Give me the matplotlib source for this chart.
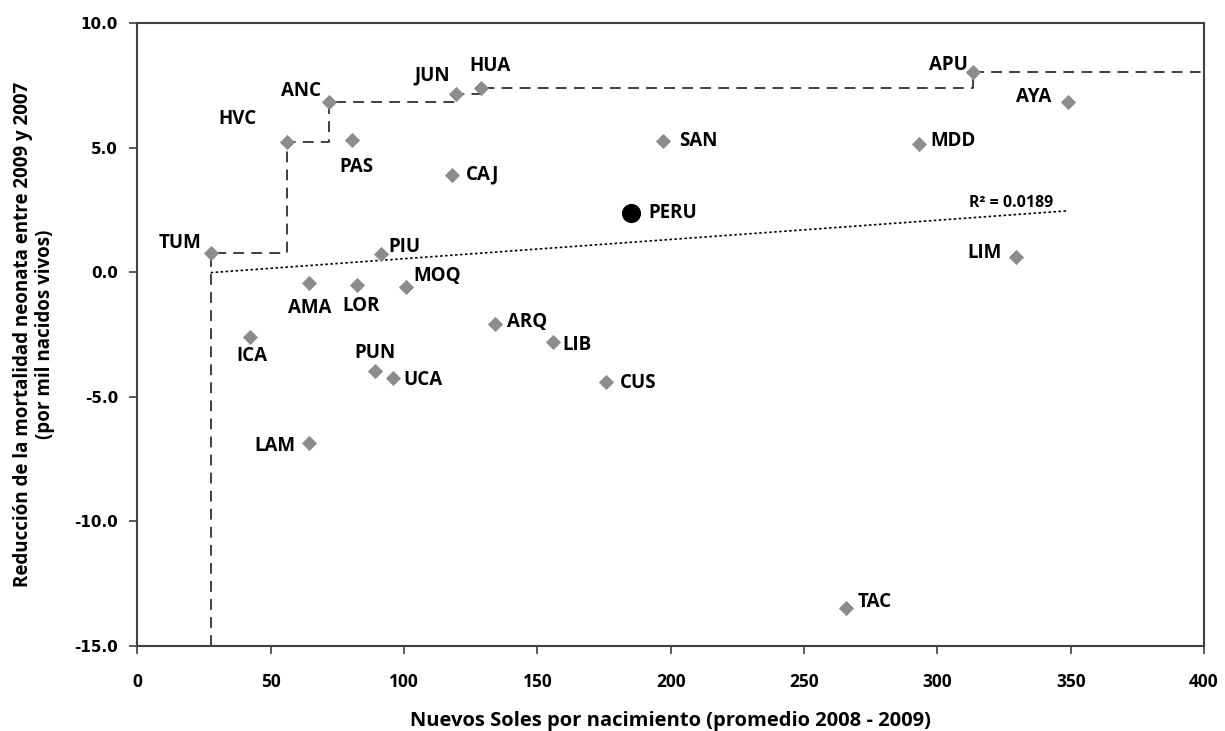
import matplotlib.pyplot as plt
import numpy as np

# regiones: gasto por nacimiento vs reduccion de mortalidad neonatal
regions = ['TUM', 'HVC', 'ANC', 'PAS', 'JUN', 'HUA', 'CAJ', 'PIU', 'AMA', 'LOR',
           'MOQ', 'ICA', 'PUN', 'UCA', 'LAM', 'ARQ', 'LIB', 'CUS', 'TAC', 'SAN',
           'APU', 'AYA', 'MDD', 'LIM']
soles = [27.5, 56.0, 71.9, 80.4, 119.5, 128.9, 117.9, 91.3, 64.5, 82.3,
         100.8, 42.3, 89.1, 95.8, 64.5, 134.1, 156.0, 175.7, 265.6, 197.2,
         313.5, 349.1, 293.1, 329.4]
reduccion = [0.75, 5.23, 6.81, 5.30, 7.14, 7.38, 3.90, 0.71, -0.45, -0.52,
             -0.59, -2.62, -3.96, -4.27, -6.88, -2.09, -2.80, -4.40, -13.50, 5.27,
             8.02, 6.84, 5.14, 0.59]

peru_x = 185.1
peru_y = 2.36

# frontera (regiones eficientes)
frontier = ['TUM', 'HVC', 'ANC', 'JUN', 'HUA', 'APU']

# desplazamiento de etiquetas (pixeles)
offsets = {
    'TUM': (-31, 10), 'HVC': (-49, 23), 'ANC': (-28, 11), 'PAS': (5, -27),
    'JUN': (-24, 19), 'HUA': (9, 22), 'CAJ': (31, 0), 'PIU': (24, 7),
    'AMA': (0, -25), 'LOR': (4, -21), 'MOQ': (31, 11), 'ICA': (2, -19),
    'PUN': (0, 18), 'UCA': (30, -2), 'LAM': (-34, -3), 'ARQ': (32, 2),
    'LIB': (24, -3), 'CUS': (32, -1), 'TAC': (29, 6), 'SAN': (35, 0),
    'APU': (-25, 7), 'AYA': (-35, 5), 'MDD': (34, 3), 'LIM': (-31, 4),
}

fig = plt.figure(figsize=(12.25, 7.31), dpi=100)
ax = fig.add_axes([0.1121, 0.1167, 0.8708, 0.8518])

# frontera escalonada
pts = {r: (x, y) for r, x, y in zip(regions, soles, reduccion)}
fx = [pts[frontier[0]][0]] + [pts[r][0] for r in frontier] + [400]
fy = [-15] + [pts[r][1] for r in frontier] + [pts[frontier[-1]][1]]
ax.plot(fx, fy, drawstyle='steps-post', color='#303030', lw=1.3,
        dashes=(6, 4), zorder=2)

# tendencia lineal
xs = np.array(soles)
ys = np.array(reduccion)
m, b = np.polyfit(xs, ys, 1)
tx = np.array([xs.min(), xs.max()])
ax.plot(tx, m * tx + b, color='black', lw=1.2, ls=(0, (1.5, 1.5)), zorder=2)
ax.annotate('R² = 0.0189', xy=(tx[1], m * tx[1] + b), xytext=(-57, 8),
            textcoords='offset pixels', ha='center', va='center',
            fontsize=11.5, fontweight='bold', family='Open Sans')

ax.scatter(soles, reduccion, marker='D', s=60, color='#8c8c8c', lw=0, zorder=3)
ax.scatter([peru_x], [peru_y], marker='o', s=190, color='black', lw=0, zorder=3)

for r, x, y in zip(regions, soles, reduccion):
    dx, dy = offsets[r]
    ax.annotate(r, xy=(x, y), xytext=(dx, dy), textcoords='offset pixels',
                ha='center', va='center', fontsize=13.5, fontweight='bold',
                family='Open Sans')
ax.annotate('PERU', xy=(peru_x, peru_y), xytext=(42, 0), textcoords='offset pixels',
            ha='center', va='center', fontsize=13.5, fontweight='bold', family='Open Sans')

ax.set_xlim(0, 400)
ax.set_ylim(-15, 10)
ax.set_xticks(np.arange(0, 401, 50))
ax.set_yticks(np.arange(-15, 10.1, 5))
ax.set_yticklabels([f'{v:.1f}' for v in np.arange(-15, 10.1, 5)])
for s in ax.spines.values():
    s.set_color('#404040')
    s.set_linewidth(1.5)
ax.tick_params(direction='out', length=6, width=1.2, color='#404040')
ax.tick_params(axis='x', pad=14)
ax.tick_params(axis='y', pad=8)
for lbl in ax.get_xticklabels():
    lbl.set_fontfamily('Open Sans')
    lbl.set_fontweight('bold')
    lbl.set_fontsize(12.5)
for lbl in ax.get_yticklabels():
    lbl.set_fontfamily('DejaVu Sans')
    lbl.set_fontweight('bold')
    lbl.set_fontsize(11)

ax.set_xlabel('Nuevos Soles por nacimiento (promedio 2008 - 2009)', fontsize=14.5,
              fontweight='bold', family='Open Sans', labelpad=14)
ax.set_ylabel('Reducción de la mortalidad neonata entre 2009 y 2007\n(por mil nacidos vivos)',
              fontsize=13.5, fontweight='bold', family='Open Sans', labelpad=14,
              linespacing=1.1)

plt.savefig('out.png', dpi=100)
